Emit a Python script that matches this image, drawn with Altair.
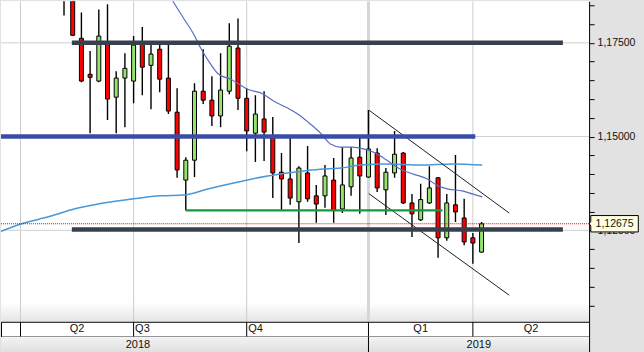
import altair as alt
import pandas as pd

# ---------------- data (weekly candles, bar index 0..48) -------------
opens  = [1.1960, 1.1935, 1.1762, 1.1666, 1.1648, 1.1752, 1.1605, 1.1656, 1.1648, 1.1746,
          1.1690, 1.1733, 1.1656, 1.1565, 1.1384, 1.1437, 1.1621, 1.1597, 1.1555, 1.1621,
          1.1736, 1.1602, 1.1509, 1.1547, 1.1501, 1.1405, 1.1387, 1.1326, 1.1403, 1.1342,
          1.1342, 1.1384, 1.1307, 1.1366, 1.1445, 1.1392, 1.1456, 1.1358, 1.1403, 1.1456,
          1.1323, 1.1278, 1.1323, 1.1390, 1.1230, 1.1318, 1.1283, 1.1230, 1.1192]
highs  = [1.1995, 1.1960, 1.1831, 1.1728, 1.1839, 1.1853, 1.1674, 1.1722, 1.1768, 1.1792,
          1.1752, 1.1750, 1.1746, 1.1629, 1.1445, 1.1642, 1.1733, 1.1661, 1.1722, 1.1802,
          1.1815, 1.1629, 1.1610, 1.1621, 1.1552, 1.1456, 1.1496, 1.1421, 1.1475, 1.1371,
          1.1424, 1.1443, 1.1472, 1.1472, 1.1496, 1.1571, 1.1469, 1.1416, 1.1515, 1.1459,
          1.1347, 1.1374, 1.1421, 1.1392, 1.1347, 1.1451, 1.1334, 1.1243, 1.1272]
lows   = [1.1823, 1.1768, 1.1645, 1.1509, 1.1645, 1.1544, 1.1509, 1.1525, 1.1589, 1.1610,
          1.1573, 1.1618, 1.1560, 1.1390, 1.1303, 1.1392, 1.1587, 1.1528, 1.1525, 1.1613,
          1.1571, 1.1461, 1.1432, 1.1435, 1.1336, 1.1304, 1.1318, 1.1216, 1.1326, 1.1270,
          1.1310, 1.1270, 1.1296, 1.1342, 1.1294, 1.1390, 1.1352, 1.1291, 1.1390, 1.1320,
          1.1232, 1.1275, 1.1320, 1.1177, 1.1222, 1.1272, 1.1210, 1.1161, 1.1190]
closes = [1.1935, 1.1770, 1.1648, 1.1658, 1.1768, 1.1600, 1.1656, 1.1682, 1.1744, 1.1685,
          1.1720, 1.1653, 1.1568, 1.1411, 1.1437, 1.1621, 1.1597, 1.1555, 1.1624, 1.1741,
          1.1602, 1.1515, 1.1560, 1.1512, 1.1403, 1.1387, 1.1336, 1.1416, 1.1334, 1.1320,
          1.1395, 1.1304, 1.1371, 1.1443, 1.1395, 1.1467, 1.1363, 1.1405, 1.1453, 1.1323,
          1.1294, 1.1332, 1.1363, 1.1230, 1.1323, 1.1299, 1.1219, 1.1216, 1.12675]

# long moving average (light blue)
ma_long_idx = [-7.3, -4.95, -1.5, 1.14, 3.89, 8.02, 11.12, 13.76, 16.51, 19.5,
               23.4, 26.39, 29.49, 31.79, 34.08, 37.18, 40.97, 44.76, 48.08]
ma_long_val = [1.1247, 1.1267, 1.1288, 1.1307, 1.1320, 1.1334, 1.1342, 1.1344, 1.1360, 1.1376,
               1.1395, 1.1405, 1.1413, 1.1416, 1.1424, 1.1427, 1.1424, 1.1427, 1.1424]

# medium moving average (slate blue)
ma_mid_idx = [12.0, 12.52, 13.76, 14.91, 15.71, 16.86, 17.78, 19.16, 21.11, 22.94,
              24.09, 25.7, 27.19, 28.34, 29.49, 30.63, 31.78, 33.16, 34.42, 35.8,
              36.72, 37.75, 38.67, 40.16, 41.77, 43.03, 44.18, 45.78, 46.93, 48.08]
ma_mid_val = [1.1880, 1.1861, 1.1815, 1.1773, 1.1736, 1.1693, 1.1666, 1.1653, 1.1626, 1.1613,
              1.1595, 1.1576, 1.1555, 1.1533, 1.1509, 1.1480, 1.1472, 1.1472, 1.1467, 1.1456,
              1.1443, 1.1427, 1.1413, 1.1400, 1.1387, 1.1368, 1.1360, 1.1355, 1.1347, 1.1339]

# channel (trend) lines: start/end bar index and price
trend_names = ["upper", "upper", "lower", "lower"]
trend_idx   = [35.08, 51.18, 35.03, 51.18]
trend_val   = [1.1570, 1.1296, 1.1348, 1.1077]

# horizontal levels drawn on the chart
dark_level_val   = [1.1750, 1.1252]
dark_level_start = [0.9, 0.9]
dark_level_end   = [57.35, 57.35]
blue_level_val, blue_level_start, blue_level_end = 1.1500, -7.3, 47.28
support_val, support_start, support_end = 1.1303, 14.0, 43.5
last_price = 1.12675

grid_prices = [1.125, 1.150, 1.175]
tick_prices = [round(1.105 + 0.005 * k, 3) for k in range(17)]

quarter_labels = ["Q2", "Q3", "Q4", "Q1", "Q2"]
quarter_starts = [-5, 8, 21, 35, 47]
quarter_align  = ["center", "left", "left", "center", "center"]
year_labels = ["2018", "2019"]
year_starts = [-18, 35]

# ---------------- layout / scales -------------------
X_DOMAIN = [-7.243, 60.36]
Y_DOMAIN = [1.10061, 1.18608]
W, H = 589, 321
FONT = "Liberation Sans"

GREEN_BODY = "#94e36c"
RED_BODY = "#ff0000"
DARK_LEVEL = "#37414d"
BLUE_LEVEL = "#3b4ca6"

xs = alt.Scale(domain=X_DOMAIN, nice=False, zero=False, padding=0)
ys = alt.Scale(domain=Y_DOMAIN, nice=False, zero=False, padding=0)

yaxis = alt.Axis(
    orient="right", values=tick_prices,
    labelExpr="(round(datum.value*1000) % 25 == 0) ? replace(format(datum.value, '.5f'), '.', ',') : ''",
    tickSize=5, tickColor="black", tickWidth=1, domainColor="black", domainWidth=1,
    labelColor="#111111", labelFont=FONT, labelFontSize=10.5, labelPadding=3,
    labelOverlap=False, labelFlush=False, grid=False, title=None,
    minExtent=55, maxExtent=55,
)


def X(field):
    return alt.X(field, scale=xs, axis=None, title=None)


def Y(field):
    return alt.Y(field, scale=ys, axis=yaxis, title=None)


candles = pd.DataFrame({"i": list(range(len(opens))), "open": opens, "high": highs,
                        "low": lows, "close": closes})
candles["dir"] = ["up" if c >= o else "down" for o, c in zip(opens, closes)]

one = alt.Data(values=[{"k": 1}])

# background gradient of the plot area (white with grey fade at the bottom)
bg = alt.Chart(one).mark_rect(
    clip=True,
    fill=alt.Gradient(gradient="linear", x1=0, x2=0, y1=0, y2=1,
                      stops=[alt.GradientStop(offset=0, color="white"),
                             alt.GradientStop(offset=0.94, color="white"),
                             alt.GradientStop(offset=1, color="#e4e4e4")])
).encode(x=alt.value(0), x2=alt.value("width"), y=alt.value(0), y2=alt.value("height"))

hgrid = alt.Chart(pd.DataFrame({"v": grid_prices})).mark_rule(
    color="#cfcfcf", strokeWidth=1, clip=True).encode(y=Y("v:Q"))

qs = pd.DataFrame({"i": quarter_starts, "year": [s in year_starts for s in quarter_starts]})
vgrid = alt.Chart(qs).transform_filter("!datum.year").mark_rule(
    color="#cccccc", strokeWidth=1, clip=True).encode(x=X("i:Q"))
vgrid_year = alt.Chart(qs).transform_filter("datum.year").mark_rule(
    color="#d6d6d6", strokeWidth=3, clip=True).encode(x=X("i:Q"))

wicks = alt.Chart(candles).mark_rule(color="black", strokeWidth=1.4, clip=True).encode(
    x=X("i:Q"), y=Y("low:Q"), y2="high:Q")

bodies = alt.Chart(candles).mark_bar(size=4, stroke="black", strokeWidth=1, clip=True).encode(
    x=X("i:Q"), y=Y("open:Q"), y2="close:Q",
    color=alt.Color("dir:N", scale=alt.Scale(domain=["up", "down"],
                                             range=[GREEN_BODY, RED_BODY]), legend=None))

ma_long = alt.Chart(pd.DataFrame({"i": ma_long_idx, "v": ma_long_val})).mark_line(
    color="#4a98d6", strokeWidth=1.5, interpolate="monotone", clip=True).encode(
    x=X("i:Q"), y=Y("v:Q"), order="i:Q")

ma_mid = alt.Chart(pd.DataFrame({"i": ma_mid_idx, "v": ma_mid_val})).mark_line(
    color="#5a6dc4", strokeWidth=1.2, interpolate="monotone", clip=True).encode(
    x=X("i:Q"), y=Y("v:Q"), order="i:Q")

trend = alt.Chart(pd.DataFrame({"name": trend_names, "i": trend_idx, "v": trend_val})).mark_line(
    color="#1e1e1e", strokeWidth=1, clip=True).encode(
    x=X("i:Q"), y=Y("v:Q"), detail="name:N")

support = alt.Chart(pd.DataFrame({"v": [support_val], "s": [support_start], "e": [support_end]})
                    ).mark_rule(color="#16993a", strokeWidth=2.2, clip=True).encode(
    x=X("s:Q"), x2="e:Q", y=Y("v:Q"))

dark_levels = alt.Chart(pd.DataFrame({"v": dark_level_val, "s": dark_level_start,
                                      "e": dark_level_end})).mark_rule(
    color=DARK_LEVEL, strokeWidth=4.6, clip=True).encode(x=X("s:Q"), x2="e:Q", y=Y("v:Q"))

blue_level = alt.Chart(pd.DataFrame({"v": [blue_level_val], "s": [blue_level_start],
                                     "e": [blue_level_end]})).mark_rule(
    color=BLUE_LEVEL, strokeWidth=4.6, clip=True).encode(x=X("s:Q"), x2="e:Q", y=Y("v:Q"))

price_df = pd.DataFrame({"v": [last_price],
                         "txt": [f"{last_price:.5f}".replace(".", ",")]})
price_line = alt.Chart(price_df).mark_rule(color="#e00000", strokeWidth=1,
                                           strokeDash=[1, 1], clip=True).encode(y=Y("v:Q"))
box_path = "M -1 -0.345 L 1 -0.345 L 1 0.345 L -1 0.345 L -1 0.1 L -1.06 0 L -1 -0.1 Z"
price_box = alt.Chart(price_df).mark_point(
    shape=box_path, size=2266, filled=True, fill="#ffffe1", stroke="black",
    strokeWidth=1, opacity=1).encode(x=alt.value(614.5), y=Y("v:Q"))
price_txt = alt.Chart(price_df).mark_text(
    font=FONT, fontSize=10.5, color="#111111", align="center", baseline="middle").encode(
    x=alt.value(614.5), y=Y("v:Q"), text="txt:N")

top = alt.layer(bg, hgrid, vgrid, vgrid_year, wicks, bodies, ma_long, ma_mid, trend,
                support, dark_levels, blue_level, price_line, price_box, price_txt).properties(
    width=W, height=H, view=alt.ViewBackground(stroke=None, fill="white"))

# ---------------- bottom time axis rows ----------------
ends = quarter_starts[1:] + [X_DOMAIN[1]]
qdf = pd.DataFrame({"label": quarter_labels, "s": quarter_starts, "e": ends,
                    "align": quarter_align})
qdf["mid"] = (qdf["s"] + qdf["e"]) / 2

q_sep = alt.Chart(qdf).mark_rule(color="black", strokeWidth=1, clip=True).encode(x=X("s:Q"))
q_center = alt.Chart(qdf).transform_filter("datum.align == 'center'").mark_text(
    font=FONT, fontSize=11, color="#111111", align="center", baseline="middle").encode(
    x=X("mid:Q"), text="label:N")
q_left = alt.Chart(qdf).transform_filter("datum.align == 'left'").mark_text(
    font=FONT, fontSize=11, color="#111111", align="left", baseline="middle", dx=1.5).encode(
    x=X("s:Q"), text="label:N")
q_row = alt.layer(q_sep, q_center, q_left).properties(
    width=W, height=15, view=alt.ViewBackground(fill="white", stroke="black", strokeWidth=1))

yends = year_starts[1:] + [X_DOMAIN[1]]
ydf = pd.DataFrame({"label": year_labels, "s": year_starts, "e": yends})
ydf["mid"] = (ydf["s"] + ydf["e"]) / 2
y_bg = alt.Chart(one).mark_rect(
    clip=True,
    fill=alt.Gradient(gradient="linear", x1=0, x2=0, y1=0, y2=1,
                      stops=[alt.GradientStop(offset=0, color="#f4f4f4"),
                             alt.GradientStop(offset=1, color="#dedede")])
).encode(x=alt.value(0), x2=alt.value("width"), y=alt.value(0), y2=alt.value("height"))
y_sep = alt.Chart(ydf).mark_rule(color="black", strokeWidth=1, clip=True).encode(x=X("s:Q"))
y_txt = alt.Chart(ydf).mark_text(font=FONT, fontSize=11, color="#111111", align="center",
                                 baseline="middle").encode(x=X("mid:Q"), text="label:N")
y_row = alt.layer(y_bg, y_sep, y_txt).properties(
    width=W, height=16, view=alt.ViewBackground(fill="#ececec", stroke="black", strokeWidth=1))

chart = alt.vconcat(top, q_row, y_row, spacing=0, bounds="flush").properties(
    padding=0, background="#e2e2e2"
).configure_view(stroke=None)

chart.save("out.html", embed_options={"renderer": "svg", "actions": False})
